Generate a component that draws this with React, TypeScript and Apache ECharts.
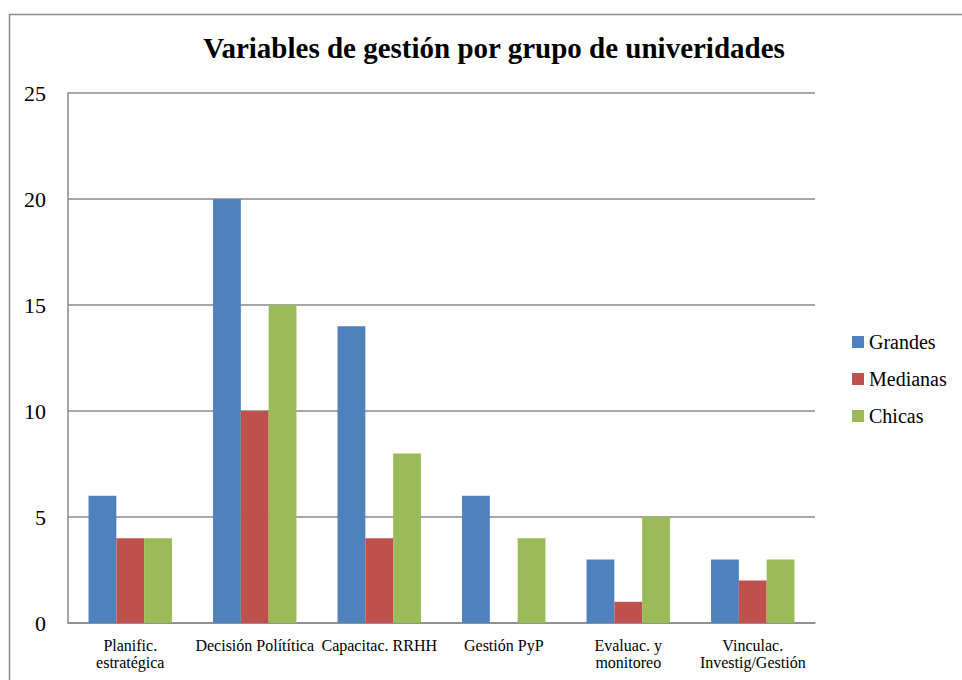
import React, { useEffect, useRef } from "react";
import * as echarts from "echarts";

const categories = [
  "Planific.\nestratégica",
  "Decisión Polítítica",
  "Capacitac. RRHH",
  "Gestión PyP",
  "Evaluac. y\nmonitoreo",
  "Vinculac.\nInvestig/Gestión",
];
const grandes = [6, 20, 14, 6, 3, 3];
const medianas = [4, 10, 4, 0, 1, 2];
const chicas = [4, 15, 8, 4, 5, 3];
const seriesNames = ["Grandes", "Medianas", "Chicas"];
const colors = ["#4F81BD", "#C0504D", "#9BBB59"];
const title = "Variables de gestión por grupo de univeridades";

const FONT = "Liberation Serif, serif";

export default function App() {
  const ref = useRef<HTMLDivElement>(null);
  useEffect(() => {
    document.body.style.margin = "0";
    const chart = echarts.init(ref.current!, null, { renderer: "svg" });
    const data = [grandes, medianas, chicas];
    chart.setOption({
      animation: false,
      backgroundColor: "#fff",
      textStyle: { fontFamily: FONT, color: "#000" },
      grid: { left: 68, right: 147, top: 93, bottom: 57, containLabel: false },
      graphic: [
        {
          type: "rect",
          shape: { x: 9.5, y: 14.5, width: 980, height: 700 },
          style: { fill: "none", stroke: "#8a8a8a", lineWidth: 1.5 },
          silent: true,
          z: -10,
        },
        {
          type: "text",
          x: 494,
          y: 48,
          style: {
            text: title,
            fontFamily: FONT,
            fontSize: 29,
            fontWeight: "bold",
            fill: "#000",
            textAlign: "center",
            textVerticalAlign: "middle",
          },
        },
      ],
      legend: {
        orient: "vertical",
        left: 847,
        top: 327,
        itemWidth: 12,
        itemHeight: 12,
        itemGap: 17,
        icon: "rect",
        textStyle: { fontFamily: FONT, fontSize: 20, color: "#000" },
        data: seriesNames,
      },
      xAxis: {
        type: "category",
        data: categories,
        axisTick: { show: false },
        axisLine: { show: true, lineStyle: { color: "#8a8a8a", width: 1.5 } },
        axisLabel: {
          interval: 0,
          fontFamily: FONT,
          fontSize: 16,
          lineHeight: 17,
          color: "#000",
          margin: 14,
        },
      },
      yAxis: {
        type: "value",
        min: 0,
        max: 25,
        interval: 5,
        axisLine: { show: true, lineStyle: { color: "#8a8a8a", width: 1.5 } },
        axisTick: { show: false },
        splitLine: { lineStyle: { color: "#8a8a8a", width: 1.5 } },
        axisLabel: { fontFamily: FONT, fontSize: 22, color: "#000", margin: 22 },
      },
      series: seriesNames.map((name, i) => ({
        name,
        type: "bar",
        data: data[i],
        itemStyle: { color: colors[i] },
        barGap: "0%",
        barCategoryGap: "33%",
      })),
    });
    return () => chart.dispose();
  }, []);
  return <div ref={ref} style={{ width: 962, height: 680 }} />;
}
